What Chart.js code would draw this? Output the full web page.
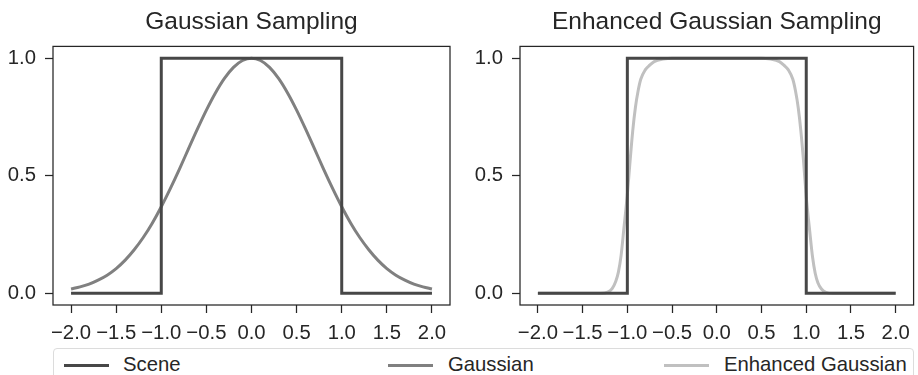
<!DOCTYPE html>
<html>
<head>
<meta charset="utf-8">
<script src="https://cdn.jsdelivr.net/npm/chart.js@4.4.1/dist/chart.umd.min.js"></script>
<style>
  html, body { margin: 0; padding: 0; background: #fff; }
  body { width: 918px; height: 375px; position: relative; overflow: hidden; font-family: "Liberation Sans", Arial, sans-serif; }
  .wrap { position: absolute; top: 0; height: 345px; }
  #legend { position: absolute; left: 53px; top: 348px; width: 861px; height: 40px; border: 1px solid #dcdcdc; border-radius: 4px; box-sizing: border-box; }
  .lg-line { position: absolute; height: 3px; width: 45px; top: 15px; }
  .lg-text { position: absolute; top: 4px; font-size: 20.3px; color: #262626; line-height: 22px; }
</style>
</head>
<body>
<div class="wrap" style="left:0;width:460px;"><canvas id="c1" width="460" height="345"></canvas></div>
<div class="wrap" style="left:460px;width:458px;"><canvas id="c2" width="458" height="345"></canvas></div>
<div id="legend"></div>
<script>
// ---- data ----
const titles = ["Gaussian Sampling", "Enhanced Gaussian Sampling"];
const seriesNames = ["Scene", "Gaussian", "Enhanced Gaussian"];
const xTicks = [-2.0, -1.5, -1.0, -0.5, 0.0, 0.5, 1.0, 1.5, 2.0];
const yTicks = [0.0, 0.5, 1.0];

const sceneX = [-2.0, -1.0, -1.0, 1.0, 1.0, 2.0];
const sceneY = [0, 0, 1, 1, 0, 0];

const gaussX = [-2.0, -1.9, -1.8, -1.7, -1.6, -1.5, -1.4, -1.3, -1.2, -1.1, -1.0, -0.9, -0.8, -0.7, -0.6, -0.5, -0.4, -0.3, -0.2, -0.1, 0.0,
                0.1, 0.2, 0.3, 0.4, 0.5, 0.6, 0.7, 0.8, 0.9, 1.0, 1.1, 1.2, 1.3, 1.4, 1.5, 1.6, 1.7, 1.8, 1.9, 2.0];
const gaussY = [0.018, 0.027, 0.039, 0.056, 0.077, 0.105, 0.141, 0.185, 0.237, 0.298, 0.368, 0.445, 0.527, 0.613, 0.698, 0.779, 0.852, 0.914, 0.961, 0.990, 1.0,
                0.990, 0.961, 0.914, 0.852, 0.779, 0.698, 0.613, 0.527, 0.445, 0.368, 0.298, 0.237, 0.185, 0.141, 0.105, 0.077, 0.056, 0.039, 0.027, 0.018];

const enhX = [-2.0, -1.5, -1.3, -1.22, -1.17, -1.13, -1.1, -1.07, -1.04, -1.0, -0.97, -0.94, -0.91, -0.88, -0.85, -0.8, -0.75, -0.7, -0.6, -0.5, 0.0,
              0.5, 0.6, 0.7, 0.75, 0.8, 0.85, 0.88, 0.91, 0.94, 0.97, 1.0, 1.04, 1.07, 1.1, 1.13, 1.17, 1.22, 1.3, 1.5, 2.0];
const enhY = [0, 0, 0, 0.005, 0.02, 0.05, 0.09, 0.16, 0.27, 0.42, 0.56, 0.69, 0.79, 0.86, 0.91, 0.95, 0.97, 0.985, 0.996, 1.0, 1.0,
              1.0, 0.996, 0.985, 0.97, 0.95, 0.91, 0.86, 0.79, 0.69, 0.56, 0.41, 0.26, 0.155, 0.085, 0.045, 0.018, 0.004, 0, 0, 0];

const colors = ["#474747", "#808080", "#c0c0c0"];
// ---------------

const toPts = (xs, ys) => xs.map((x, i) => ({x: x, y: ys[i]}));
const FONT = "'Liberation Sans', Arial, sans-serif";
const TXT = "#262626";
const fmt = v => (v < 0 ? "\u2212" : "") + Math.abs(v).toFixed(1);

const frame = {
  id: 'frame',
  afterDraw(chart) {
    const a = chart.chartArea, ctx = chart.ctx;
    ctx.save();
    ctx.strokeStyle = "#262626";
    ctx.lineWidth = 1.25;
    ctx.strokeRect(a.left, a.top, a.right - a.left, a.bottom - a.top);
    ctx.restore();
  }
};

function makeChart(id, title, datasets, yAxisWidth, padRight) {
  return new Chart(document.getElementById(id), {
    type: 'scatter',
    data: { datasets: datasets },
    options: {
      responsive: false,
      animation: false,
      layout: { padding: { left: 0, right: padRight, top: 0, bottom: 0 } },
      plugins: {
        legend: { display: false },
        tooltip: { enabled: false },
        title: {
          display: true, text: title, color: TXT, fullSize: false,
          font: { family: FONT, size: 24.5, weight: 'normal', lineHeight: 1.2 },
          padding: { top: 8, bottom: 9 }
        }
      },
      scales: {
        x: {
          type: 'linear', min: -2.2, max: 2.2,
          afterBuildTicks: s => { s.ticks = xTicks.map(v => ({value: v})); },
          afterFit: s => { s.height = 40; },
          border: { display: false },
          grid: { display: true, drawOnChartArea: false, drawTicks: true, tickLength: 8, tickWidth: 1.25, tickColor: "#262626" },
          ticks: { color: TXT, font: { family: FONT, size: 20.3 }, padding: 8, maxRotation: 0, autoSkip: false, callback: v => fmt(v) }
        },
        y: {
          type: 'linear', min: -0.05, max: 1.05,
          afterBuildTicks: s => { s.ticks = yTicks.map(v => ({value: v})); },
          afterFit: s => { s.width = yAxisWidth; },
          border: { display: false },
          grid: { display: true, drawOnChartArea: false, drawTicks: true, tickLength: 8, tickWidth: 1.25, tickColor: "#262626" },
          ticks: { color: TXT, font: { family: FONT, size: 20.3 }, padding: 9, callback: v => fmt(v) }
        }
      }
    },
    plugins: [frame]
  });
}

const lineDs = (label, pts, color, smooth) => ({
  label: label, data: pts, showLine: true, borderColor: color, backgroundColor: color,
  borderWidth: 3, pointRadius: 0, fill: false, tension: 0,
  cubicInterpolationMode: smooth ? 'monotone' : 'default', borderJoinStyle: 'miter', borderCapStyle: 'butt'
});

makeChart('c1', titles[0], [
  lineDs(seriesNames[0], toPts(sceneX, sceneY), colors[0], false),
  lineDs(seriesNames[1], toPts(gaussX, gaussY), colors[1], true)
], 53, 10);

makeChart('c2', titles[1], [
  lineDs(seriesNames[0], toPts(sceneX, sceneY), colors[0], false),
  lineDs(seriesNames[2], toPts(enhX, enhY), colors[2], true)
], 60, 4);

// legend
const lg = document.getElementById('legend');
const lineLeft = [10, 334, 610];
const textLeft = [69, 394, 670];
seriesNames.forEach((n, i) => {
  const l = document.createElement('div');
  l.className = 'lg-line'; l.style.left = lineLeft[i] + 'px'; l.style.background = colors[i];
  lg.appendChild(l);
  const t = document.createElement('div');
  t.className = 'lg-text'; t.style.left = textLeft[i] + 'px'; t.textContent = n;
  lg.appendChild(t);
});
</script>
</body>
</html>
